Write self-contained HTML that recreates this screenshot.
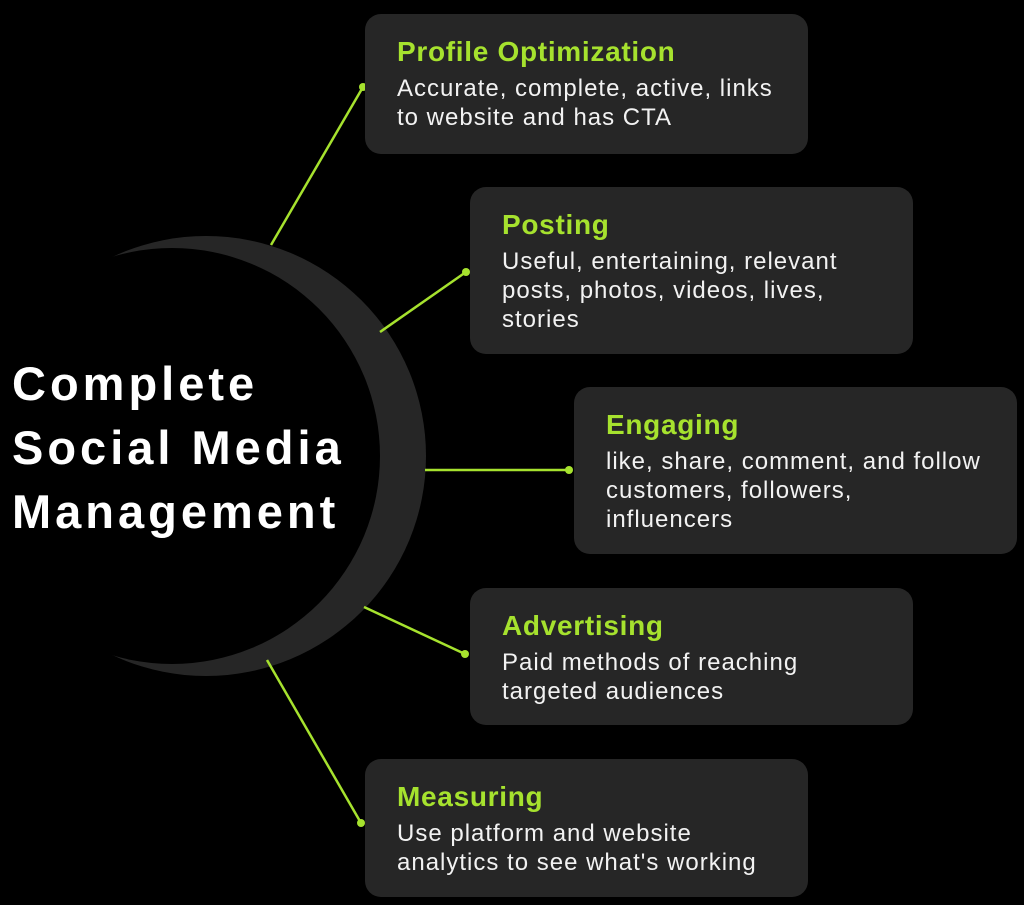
<!DOCTYPE html>
<html><head><style>
body{margin:0;background:#000;width:1024px;height:905px;overflow:hidden;position:relative;font-family:"Liberation Sans",sans-serif}
.b{position:absolute;background:#262626;border-radius:16px;box-sizing:border-box;padding-left:32px}
.t{color:#a6e22e;font-weight:bold;font-size:28px;letter-spacing:0.7px;line-height:32px;margin-top:22px}
.d{color:#f2f2f2;font-size:24px;letter-spacing:1px;line-height:29px;margin-top:6px;white-space:nowrap}
.m{position:absolute;left:12px;top:352px;color:#fff;font-weight:bold;font-size:47px;letter-spacing:4px;line-height:64px;white-space:nowrap}
</style></head><body>
<svg width="1024" height="905" style="position:absolute;left:0;top:0">
<circle cx="206" cy="456" r="220" fill="#262626"/>
<circle cx="172" cy="456" r="208" fill="#000"/>
<g stroke="#a6e22e" stroke-width="2.5">
<line x1="271" y1="245" x2="363" y2="87"/>
<line x1="380" y1="332" x2="466" y2="272"/>
<line x1="425" y1="470" x2="569" y2="470"/>
<line x1="364" y1="607" x2="465" y2="654"/>
<line x1="267" y1="660" x2="361" y2="823"/>
</g>
<g fill="#a6e22e">
<circle cx="363" cy="87" r="4"/><circle cx="466" cy="272" r="4"/><circle cx="569" cy="470" r="4"/><circle cx="465" cy="654" r="4"/><circle cx="361" cy="823" r="4"/>
</g>
</svg>
<div class="m">Complete<br>Social Media<br>Management</div>
<div class="b" style="left:365px;top:14px;width:443px;height:140px"><div class="t">Profile Optimization</div><div class="d">Accurate, complete, active, links<br>to website and has CTA</div></div>
<div class="b" style="left:470px;top:187px;width:443px;height:167px"><div class="t">Posting</div><div class="d">Useful, entertaining, relevant<br>posts, photos, videos, lives,<br>stories</div></div>
<div class="b" style="left:574px;top:387px;width:443px;height:167px"><div class="t">Engaging</div><div class="d">like, share, comment, and follow<br>customers, followers,<br>influencers</div></div>
<div class="b" style="left:470px;top:588px;width:443px;height:137px"><div class="t">Advertising</div><div class="d">Paid methods of reaching<br>targeted audiences</div></div>
<div class="b" style="left:365px;top:759px;width:443px;height:138px"><div class="t">Measuring</div><div class="d">Use platform and website<br>analytics to see what's working</div></div>
</body></html>
